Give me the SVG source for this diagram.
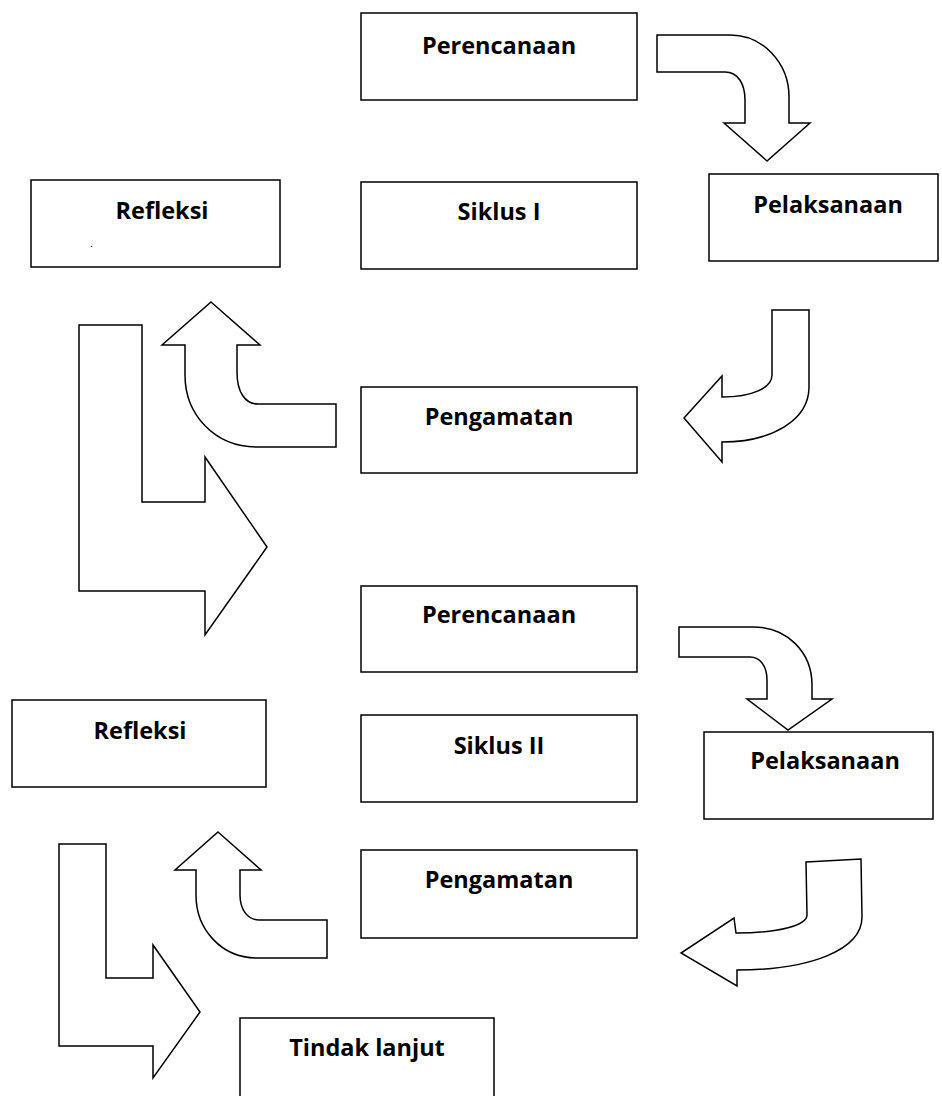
<svg xmlns="http://www.w3.org/2000/svg" width="942" height="1096" viewBox="0 0 942 1096">
<style>
.box{fill:#fff;stroke:#000;stroke-width:1.5}
.arr{fill:#fff;stroke:#000;stroke-width:1.5;stroke-linejoin:miter}
.t{font-family:"Open Sans","Liberation Sans",sans-serif;font-weight:bold;font-size:23.5px;fill:#000;text-anchor:middle}
</style>
<rect width="942" height="1096" fill="#fff"/>
<g id="perencanaan1"><rect class="box" x="361" y="13" width="276" height="87"/><text class="t" x="499" y="54">Perencanaan</text></g>
<g id="siklus1"><rect class="box" x="361" y="182" width="276" height="87"/><text class="t" x="499" y="220">Siklus I</text></g>
<g id="refleksi1"><rect class="box" x="31" y="180" width="249" height="87"/><text class="t" x="162" y="219">Refleksi</text><text x="90" y="247" font-family="Liberation Sans, sans-serif" font-size="11" fill="#000">.</text></g>
<g id="pelaksanaan1"><rect class="box" x="709" y="174" width="229" height="87"/><text class="t" x="828" y="213">Pelaksanaan</text></g>
<g id="pengamatan1"><rect class="box" x="361" y="387" width="276" height="86"/><text class="t" x="499" y="425">Pengamatan</text></g>
<g id="perencanaan2"><rect class="box" x="361" y="586" width="276" height="86"/><text class="t" x="499" y="623">Perencanaan</text></g>
<g id="refleksi2"><rect class="box" x="12" y="700" width="254" height="87"/><text class="t" x="140" y="739">Refleksi</text></g>
<g id="siklus2"><rect class="box" x="361" y="715" width="276" height="87"/><text class="t" x="499" y="754">Siklus II</text></g>
<g id="pelaksanaan2"><rect class="box" x="704" y="732" width="229" height="87"/><text class="t" x="825" y="769">Pelaksanaan</text></g>
<g id="pengamatan2"><rect class="box" x="361" y="850" width="276" height="88"/><text class="t" x="499" y="888">Pengamatan</text></g>
<g id="tindaklanjut"><rect class="box" x="240" y="1018" width="254" height="90"/><text class="t" x="367" y="1056">Tindak lanjut</text></g>
<g id="connectors">
<path class="arr" d="M657,35 L730,35 C763,35 789,63 789,97 L789,123 L810,123 L767,161 L724,123 L745,123 L745,100 C745,84 738,72 725,72 L657,72 Z"/>
<path class="arr" d="M772,310 L809,310 L809,387 C809,420 772,442 722,442 L722,462 L684,418 L722,376 L722,397 C752,397 772,388 772,375 L772,310 Z"/>
<path class="arr" d="M211,302 L260,345 L237,345 L237,372 C237,392 245,404 258,404 L336,404 L336,447 L257,447 C215,447 185,415 185,375 L185,345 L162,345 Z"/>
<path class="arr" d="M79,325 L142,325 L142,502 L205,502 L205,457 L267,547 L205,635 L205,591 L79,591 Z"/>
<path class="arr" d="M679,627 L753,627 C787,627 812,652 812,685 L812,699 L832,699 L788,730 L747,699 L767,699 L767,680 C767,666 760,657 750,657 L679,657 Z"/>
<path class="arr" d="M806,862 L861,859 L862,917 C862,950 810,970 737,970 L737,986 L681,953 L734,918 L736,933 C780,933 807,925 807,915 L806,862 Z"/>
<path class="arr" d="M218,832 L261,870 L240,870 L240,895 C240,910 248,920 259,920 L327,920 L327,958 L257,958 C222,958 196,930 196,895 L196,870 L175,870 Z"/>
<path class="arr" d="M59,844 L106,844 L106,978 L153,978 L153,945 L200,1012 L153,1078 L153,1046 L59,1046 Z"/>
</g>
</svg>
